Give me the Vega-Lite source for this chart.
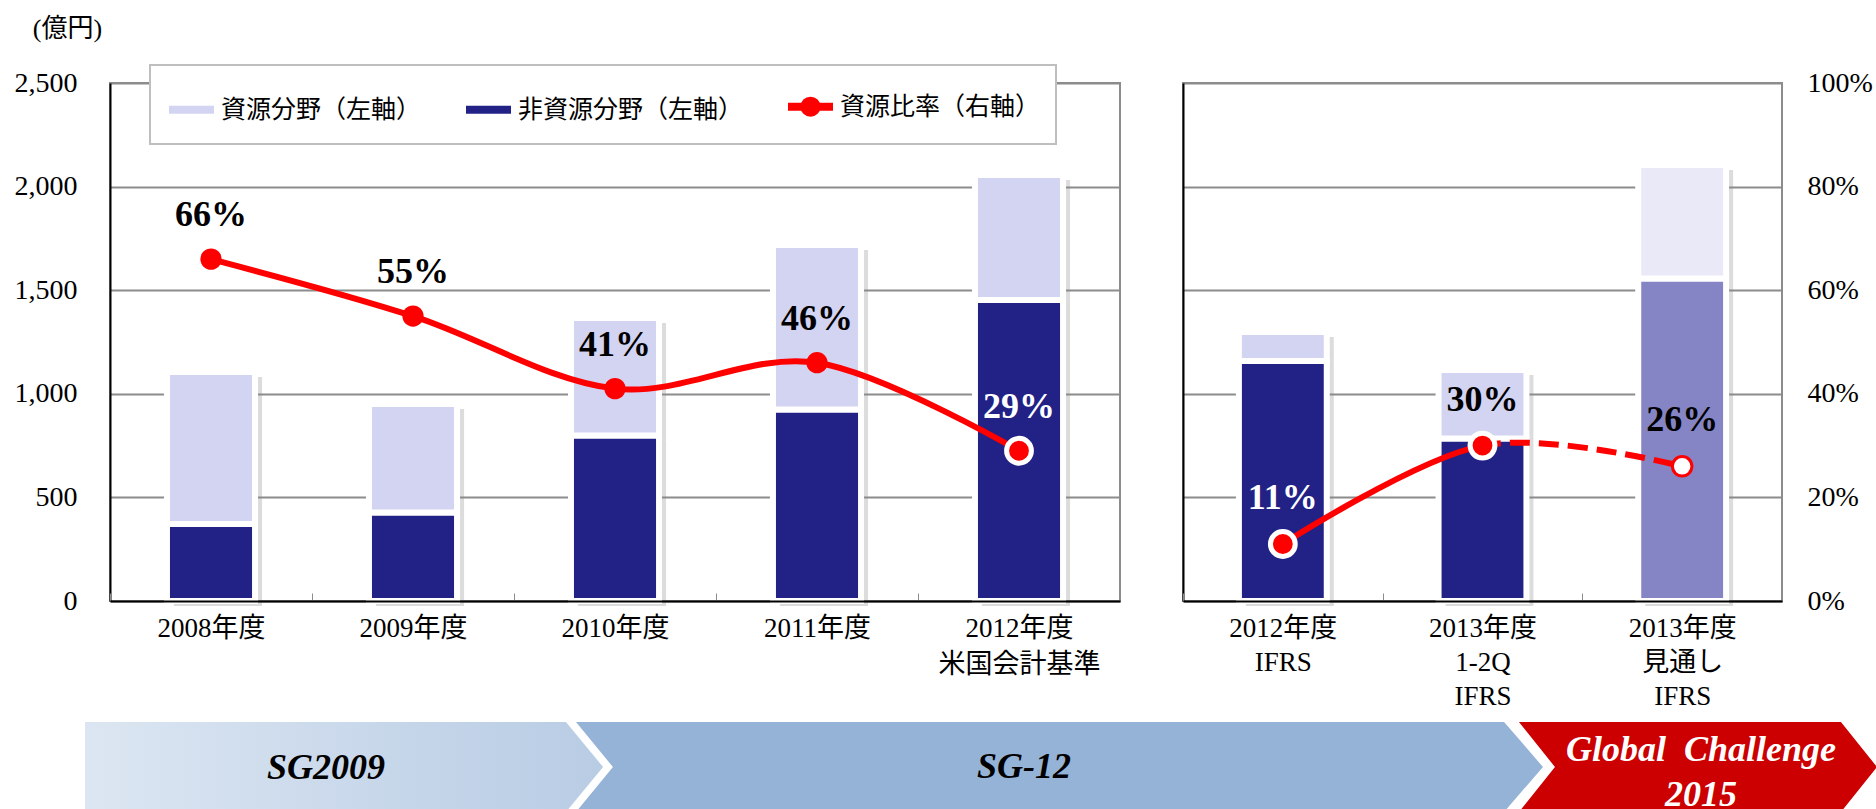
{
  "$schema": "https://vega.github.io/schema/vega-lite/v6.json",
  "background": "white",
  "padding": {"left": 13, "top": 14, "right": 0, "bottom": 0},
  "config": {
    "view": {"stroke": "#8c8c8c", "strokeWidth": 2},
    "axis": {
      "gridColor": "#8c8c8c", "gridWidth": 2,
      "domainColor": "#000000", "domainWidth": 2,
      "ticks": false, "labelColor": "#000000", "titleColor": "#000000",
      "labelFont": "'Liberation Serif', 'Noto Sans CJK JP'",
      "titleFont": "'Liberation Serif', 'Noto Sans CJK JP'"
    },
    "legend": {"strokeWidth": 2}
  },
  "datasets": {
    "barsL": [
      {"cat": "2008年度", "series": "非資源分野（左軸）", "value": 372},
      {"cat": "2008年度", "series": "資源分野（左軸）", "value": 733},
      {"cat": "2009年度", "series": "非資源分野（左軸）", "value": 427},
      {"cat": "2009年度", "series": "資源分野（左軸）", "value": 524},
      {"cat": "2010年度", "series": "非資源分野（左軸）", "value": 799},
      {"cat": "2010年度", "series": "資源分野（左軸）", "value": 567},
      {"cat": "2011年度", "series": "非資源分野（左軸）", "value": 924},
      {"cat": "2011年度", "series": "資源分野（左軸）", "value": 794},
      {"cat": "2012年度|米国会計基準", "series": "非資源分野（左軸）", "value": 1453},
      {"cat": "2012年度|米国会計基準", "series": "資源分野（左軸）", "value": 603}
    ],
    "barsR": [
      {"cat": "2012年度|IFRS", "series": "非資源分野（左軸）", "value": 1158},
      {"cat": "2012年度|IFRS", "series": "資源分野（左軸）", "value": 140},
      {"cat": "2013年度|1-2Q|IFRS", "series": "非資源分野（左軸）", "value": 784},
      {"cat": "2013年度|1-2Q|IFRS", "series": "資源分野（左軸）", "value": 331},
      {"cat": "2013年度|見通し|IFRS", "series": "非資源分野（左軸）", "value": 1556},
      {"cat": "2013年度|見通し|IFRS", "series": "資源分野（左軸）", "value": 548}
    ],
    "ratioL": [
      {"cat": "2008年度", "ratio": 0.66},
      {"cat": "2009年度", "ratio": 0.55},
      {"cat": "2010年度", "ratio": 0.41},
      {"cat": "2011年度", "ratio": 0.46},
      {"cat": "2012年度|米国会計基準", "ratio": 0.29}
    ],
    "ratioR": [
      {"cat": "2012年度|IFRS", "ratio": 0.11},
      {"cat": "2013年度|1-2Q|IFRS", "ratio": 0.30},
      {"cat": "2013年度|見通し|IFRS", "ratio": 0.26}
    ],
    "band": [
      {"phase": "SG2009", "y": 0, "x": 0, "x2": 26.84},
      {"phase": "SG2009", "y": 0.5, "x": 0, "x2": 28.91},
      {"phase": "SG2009", "y": 1, "x": 0, "x2": 26.84},
      {"phase": "SG-12", "y": 0, "x": 27.40, "x2": 79.19},
      {"phase": "SG-12", "y": 0.5, "x": 29.46, "x2": 81.36},
      {"phase": "SG-12", "y": 1, "x": 27.40, "x2": 79.19},
      {"phase": "GC2015", "y": 0, "x": 80.02, "x2": 97.99},
      {"phase": "GC2015", "y": 0.5, "x": 82.03, "x2": 100},
      {"phase": "GC2015", "y": 1, "x": 80.02, "x2": 97.99}
    ],
    "bandText": [
      {"phase": "SG2009", "t": "SG2009", "x": 13.45, "y": 0.49},
      {"phase": "SG-12", "t": "SG-12", "x": 52.40, "y": 0.5},
      {"phase": "GC2015", "t": "Global\u00a0 Challenge", "x": 90.18, "y": 0.69},
      {"phase": "GC2015", "t": "2015", "x": 90.18, "y": 0.19}
    ]
  },
  "hconcat": [
    {
      "width": 1010,
      "height": 518,
      "layer": [
        {
          "layer": [
            {
              "data": {"name": "barsL"},
              "transform": [{"filter": "false"}],
              "mark": {"type": "line", "strokeWidth": 8, "opacity": 1},
              "encoding": {
                "x": {
                  "field": "cat", "type": "nominal",
                  "scale": {"domain": ["2008年度", "2009年度", "2010年度", "2011年度", "2012年度|米国会計基準"], "paddingInner": 0, "paddingOuter": 0},
                  "axis": {
                    "title": null, "labelAngle": 0, "labelFontSize": 27,
                    "labelExpr": "isValid(datum.value) ? split(datum.value, '|') : ''", "labelLineHeight": 36,
                    "labelPadding": 22, "zindex": 1, "labelLimit": 300,
                    "ticks": true, "tickBand": "extent", "tickSize": -8, "tickColor": "#8c8c8c", "tickWidth": 1
                  }
                },
                "y": {"field": "value", "type": "quantitative", "scale": {"domain": [0, 2500], "nice": false}, "axis": null},
                "color": {"field": "series", "type": "nominal"}
              }
            },
            {
              "data": {"name": "barsL"},
              "transform": [{"filter": "false"}],
              "mark": {"type": "point", "filled": true, "opacity": 1},
              "encoding": {
                "x": {"field": "cat", "type": "nominal"},
                "y": {"field": "value", "type": "quantitative", "scale": {"domain": [0, 2500], "nice": false}, "axis": null},
                "color": {"field": "series", "type": "nominal"},
                "shape": {
                  "field": "series", "type": "nominal",
                  "scale": {
                    "domain": ["資源分野（左軸）", "非資源分野（左軸）", "資源比率（右軸）"],
                    "range": ["stroke", "stroke", "M-1,0L1,0M0.27,0A0.27,0.27,0,1,1,-0.27,0A0.27,0.27,0,1,1,0.27,0Z"]
                  }
                }
              }
            },
            {
              "data": {"name": "barsL"},
              "mark": {"type": "bar", "color": "#8a8a8a", "opacity": 0.3, "xOffset": 7, "yOffset": 5, "width": {"band": 0.436}},
              "encoding": {
                "x": {"field": "cat", "type": "nominal"},
                "y": {"field": "value", "type": "quantitative", "stack": "zero", "scale": {"domain": [0, 2500], "nice": false}, "axis": null},
                "order": {"field": "series", "sort": "descending"}
              }
            },
            {
              "data": {"name": "barsL"},
              "mark": {"type": "bar", "stroke": "#ffffff", "strokeWidth": 6, "width": {"band": 0.436}, "opacity": 1},
              "encoding": {
                "x": {"field": "cat", "type": "nominal"},
                "y": {
                  "field": "value", "type": "quantitative", "stack": "zero",
                  "scale": {"domain": [0, 2500], "nice": false},
                  "axis": {
                    "values": [0, 500, 1000, 1500, 2000, 2500], "format": ",.0f",
                    "labelFontSize": 28, "labelPadding": 33, "grid": true,
                    "title": "(億円)", "titleAngle": 0, "titleX": -43, "titleY": -55,
                    "titleAlign": "center", "titleBaseline": "middle",
                    "titleFontSize": 26, "titleFontWeight": "normal"
                  }
                },
                "color": {
                  "field": "series", "type": "nominal",
                  "scale": {
                    "domain": ["資源分野（左軸）", "非資源分野（左軸）", "資源比率（右軸）"],
                    "range": ["#d3d3f2", "#212186", "#ff0000"]
                  },
                  "legend": {
                    "orient": "none", "legendX": 40, "legendY": -18, "direction": "horizontal",
                    "title": null, "symbolType": "stroke", "symbolSize": 2025, "symbolStrokeWidth": 8,
                    "symbolOpacity": 1,
                    "labelFont": "'Noto Sans CJK JP'", "labelFontSize": 25,
                    "labelColor": "#000000", "labelOffset": 3, "labelLimit": 400,
                    "columnPadding": 28, "padding": 15, "strokeColor": "#bfbfbf", "fillColor": "#ffffff"
                  }
                },
                "order": {"field": "series", "sort": "descending"}
              }
            },
            {
              "data": {"name": "ratioL"},
              "mark": {"type": "line", "color": "#ff0000", "strokeWidth": 6, "interpolate": "cardinal"},
              "encoding": {
                "x": {"field": "cat", "type": "nominal"},
                "y": {"field": "ratio", "type": "quantitative", "scale": {"domain": [0, 1], "nice": false}, "axis": null}
              }
            },
            {
              "data": {"name": "ratioL"},
              "mark": {"type": "point", "filled": true, "opacity": 1, "fill": "#ff0000", "stroke": "#ffffff", "shape": "circle"},
              "encoding": {
                "x": {"field": "cat", "type": "nominal"},
                "y": {"field": "ratio", "type": "quantitative", "scale": {"domain": [0, 1], "nice": false}, "axis": null},
                "size": {"condition": {"test": "datum.cat === '2012年度|米国会計基準'", "value": 616}, "value": 452},
                "strokeWidth": {"condition": {"test": "datum.cat === '2012年度|米国会計基準'", "value": 5}, "value": 0}
              }
            },
            {
              "data": {"name": "ratioL"},
              "mark": {"type": "text", "font": "Liberation Serif", "fontSize": 36, "fontWeight": "bold", "dy": -44, "baseline": "middle"},
              "encoding": {
                "x": {"field": "cat", "type": "nominal"},
                "y": {"field": "ratio", "type": "quantitative", "scale": {"domain": [0, 1], "nice": false}, "axis": null},
                "text": {"field": "ratio", "type": "quantitative", "format": ".0%"},
                "color": {"condition": {"test": "datum.cat === '2012年度|米国会計基準'", "value": "#ffffff"}, "value": "#000000"}
              }
            }
          ],
          "resolve": {"scale": {"y": "independent"}}
        },
        {
          "data": {"name": "band"},
          "transform": [{"filter": "datum.phase === 'SG2009'"}],
          "mark": {"type": "area", "orient": "horizontal", "clip": false,
                   "fill": {"gradient": "linear", "x1": 0, "y1": 0, "x2": 1, "y2": 0,
                            "stops": [{"offset": 0, "color": "#dce6f2"}, {"offset": 1, "color": "#b8cce4"}]}},
          "encoding": {
            "y": {"field": "y", "type": "quantitative", "scale": {"domain": [2.3444, 8.1], "nice": false, "zero": false}, "axis": null},
            "x": {"field": "x", "type": "quantitative", "scale": {"domain": [1.395, 57.757], "nice": false, "zero": false}, "axis": null},
            "x2": {"field": "x2"}
          }
        },
        {
          "data": {"name": "band"},
          "transform": [{"filter": "datum.phase === 'SG-12'"}],
          "mark": {"type": "area", "orient": "horizontal", "clip": false, "fill": "#95b3d7"},
          "encoding": {
            "y": {"field": "y", "type": "quantitative", "scale": {"domain": [2.3444, 8.1], "nice": false, "zero": false}, "axis": null},
            "x": {"field": "x", "type": "quantitative", "scale": {"domain": [1.395, 57.757], "nice": false, "zero": false}, "axis": null},
            "x2": {"field": "x2"}
          }
        },
        {
          "data": {"name": "band"},
          "transform": [{"filter": "datum.phase === 'GC2015'"}],
          "mark": {"type": "area", "orient": "horizontal", "clip": false, "fill": "#cc0000"},
          "encoding": {
            "y": {"field": "y", "type": "quantitative", "scale": {"domain": [2.3444, 8.1], "nice": false, "zero": false}, "axis": null},
            "x": {"field": "x", "type": "quantitative", "scale": {"domain": [1.395, 57.757], "nice": false, "zero": false}, "axis": null},
            "x2": {"field": "x2"}
          }
        },
        {
          "data": {"name": "bandText"},
          "mark": {"type": "text", "font": "Liberation Serif", "fontStyle": "italic", "fontWeight": "bold", "fontSize": 36, "baseline": "middle", "align": "center"},
          "encoding": {
            "y": {"field": "y", "type": "quantitative", "scale": {"domain": [2.3444, 8.1], "nice": false, "zero": false}, "axis": null},
            "x": {"field": "x", "type": "quantitative", "scale": {"domain": [1.395, 57.757], "nice": false, "zero": false}, "axis": null},
            "text": {"field": "t"},
            "color": {"condition": {"test": "datum.phase === 'GC2015'", "value": "#ffffff"}, "value": "#000000"}
          }
        }
      ],
      "resolve": {"scale": {"x": "independent", "y": "independent"}}
    },
    {
      "width": 599,
      "height": 518,
      "layer": [
        {
          "data": {"name": "barsR"},
          "mark": {"type": "bar", "color": "#8a8a8a", "opacity": 0.3, "xOffset": 7, "yOffset": 5, "width": {"band": 0.44}},
          "encoding": {
            "x": {
              "field": "cat", "type": "nominal",
              "scale": {"domain": ["2012年度|IFRS", "2013年度|1-2Q|IFRS", "2013年度|見通し|IFRS"], "paddingInner": 0, "paddingOuter": 0},
              "axis": {
                "title": null, "labelAngle": 0, "labelFontSize": 27,
                "labelExpr": "isValid(datum.value) ? split(datum.value, '|') : ''", "labelLineHeight": 34,
                "labelPadding": 22, "zindex": 1, "labelLimit": 300,
                "ticks": true, "tickBand": "extent", "tickSize": -8, "tickColor": "#8c8c8c", "tickWidth": 1
              }
            },
            "y": {"field": "value", "type": "quantitative", "stack": "zero", "scale": {"domain": [0, 2500], "nice": false}, "axis": null},
            "order": {"field": "series", "sort": "descending"}
          }
        },
        {
          "data": {"name": "barsR"},
          "mark": {"type": "bar", "stroke": "#ffffff", "strokeWidth": 6, "width": {"band": 0.44}},
          "encoding": {
            "x": {"field": "cat", "type": "nominal"},
            "y": {
              "field": "value", "type": "quantitative", "stack": "zero",
              "scale": {"domain": [0, 2500], "nice": false},
              "axis": {"orient": "left", "labels": false, "grid": false, "title": null, "domain": true}
            },
            "color": {
              "condition": [
                {"test": "datum.cat === '2013年度|見通し|IFRS' && datum.series === '資源分野（左軸）'", "value": "#e9e9f8"},
                {"test": "datum.cat === '2013年度|見通し|IFRS' && datum.series === '非資源分野（左軸）'", "value": "#8585c5"}
              ],
              "field": "series", "type": "nominal"
            },
            "order": {"field": "series", "sort": "descending"}
          }
        },
        {
          "data": {"name": "ratioR"},
          "mark": {"type": "line", "color": "#ff0000", "strokeWidth": 6, "interpolate": "cardinal",
                   "strokeDash": [242, 9, 20, 9, 20, 9, 20, 9, 20, 9, 20, 9, 20, 9, 20, 9, 20, 9, 20]},
          "encoding": {
            "x": {"field": "cat", "type": "nominal"},
            "y": {
              "field": "ratio", "type": "quantitative", "scale": {"domain": [0, 1], "nice": false},
              "axis": {"orient": "right", "values": [0, 0.2, 0.4, 0.6, 0.8, 1], "format": ".0%",
                       "labelFontSize": 28, "labelPadding": 25, "grid": true, "domain": false, "title": null}
            }
          }
        },
        {
          "data": {"name": "ratioR"},
          "mark": {"type": "point", "filled": true, "opacity": 1, "shape": "circle"},
          "encoding": {
            "x": {"field": "cat", "type": "nominal"},
            "y": {"field": "ratio", "type": "quantitative", "scale": {"domain": [0, 1], "nice": false}, "axis": null},
            "size": {"condition": {"test": "datum.cat === '2013年度|見通し|IFRS'", "value": 380}, "value": 616},
            "fill": {"condition": {"test": "datum.cat === '2013年度|見通し|IFRS'", "value": "#ffffff"}, "value": "#ff0000"},
            "stroke": {"condition": {"test": "datum.cat === '2013年度|見通し|IFRS'", "value": "#ff0000"}, "value": "#ffffff"},
            "strokeWidth": {"condition": {"test": "datum.cat === '2013年度|見通し|IFRS'", "value": 3}, "value": 5}
          }
        },
        {
          "data": {"name": "ratioR"},
          "mark": {"type": "text", "font": "Liberation Serif", "fontSize": 36, "fontWeight": "bold", "dy": -46, "baseline": "middle"},
          "encoding": {
            "x": {"field": "cat", "type": "nominal"},
            "y": {"field": "ratio", "type": "quantitative", "scale": {"domain": [0, 1], "nice": false}, "axis": null},
            "text": {"field": "ratio", "type": "quantitative", "format": ".0%"},
            "color": {"condition": {"test": "datum.cat === '2012年度|IFRS'", "value": "#ffffff"}, "value": "#000000"}
          }
        }
      ],
      "resolve": {"scale": {"y": "independent"}}
    }
  ],
  "spacing": 63,
  "bounds": "flush",
  "resolve": {"scale": {"x": "independent", "y": "independent"}}
}
